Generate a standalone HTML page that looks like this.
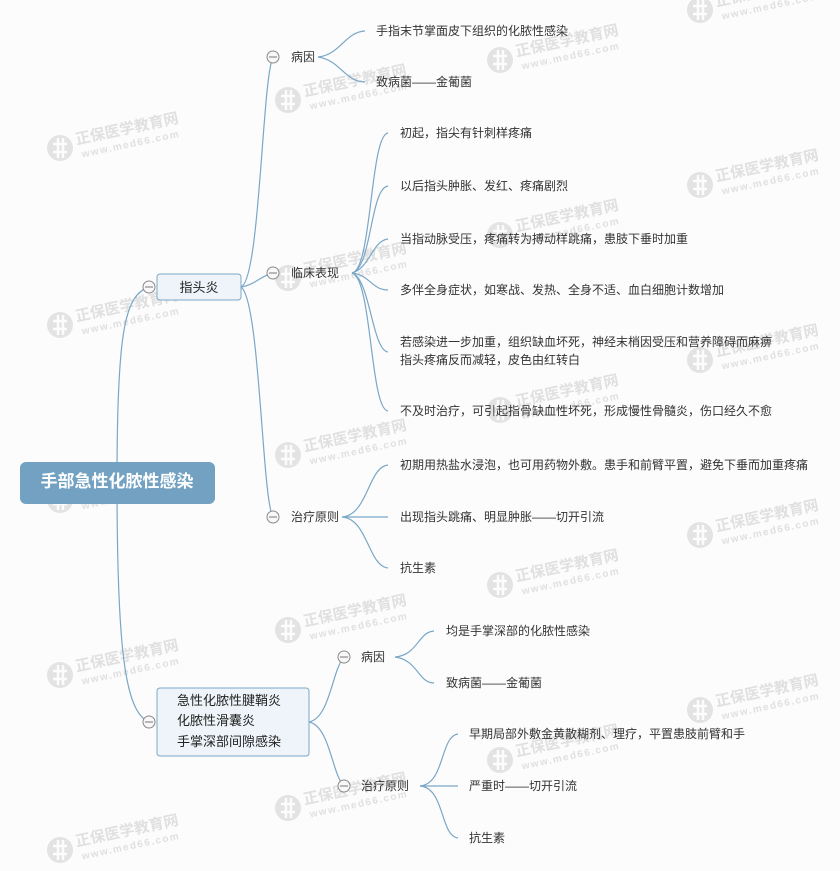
<!DOCTYPE html>
<html><head><meta charset="utf-8"><style>
html,body{margin:0;padding:0;background:#fcfcfc;}
svg{display:block;font-family:"Liberation Sans","Noto Sans CJK SC",sans-serif;}
.l{font-size:12px;fill:#333;}
.b{font-size:13px;fill:#222;}
.c{fill:none;stroke:#7aa7c7;stroke-width:1.2;}
.k{fill:#f8f8f8;stroke:#888;stroke-width:1;}
.wm text{font-weight:bold;fill:#e2e2e2;}
</style></head><body>
<svg width="840" height="871" viewBox="0 0 840 871" xmlns="http://www.w3.org/2000/svg">
<defs>
<g id="w">
<circle cx="0" cy="0" r="13" fill="#e3e3e3"/>
<path d="M-7,-4 H7 M-7,4 H7 M-2,-10 V10 M3,-10 V10" stroke="#fcfcfc" stroke-width="2.5"/>
<g transform="rotate(-12)"><text x="17" y="0" font-size="15" font-weight="bold" fill="#e0e0e0">正保医学教育网</text>
<text x="20" y="14" font-size="10" font-weight="bold" fill="#e0e0e0" letter-spacing="1.5">www.med66.com</text></g>
</g>
</defs>
<g>
<use href="#w" x="60" y="148"/><use href="#w" x="60" y="325"/><use href="#w" x="60" y="500"/><use href="#w" x="60" y="675"/><use href="#w" x="60" y="850"/>
<use href="#w" x="288" y="100"/><use href="#w" x="288" y="278"/><use href="#w" x="288" y="455"/><use href="#w" x="288" y="630"/><use href="#w" x="288" y="808"/>
<use href="#w" x="500" y="60"/><use href="#w" x="500" y="235"/><use href="#w" x="500" y="410"/><use href="#w" x="500" y="585"/><use href="#w" x="500" y="760"/>
<use href="#w" x="700" y="10"/><use href="#w" x="700" y="185"/><use href="#w" x="700" y="360"/><use href="#w" x="700" y="535"/><use href="#w" x="700" y="710"/>
</g>

<!-- root connectors -->
<path class="c" d="M117,480 C117,330 125,295 149,287"/>
<path class="c" d="M117,480 C117,650 125,712 149,722"/>

<!-- branch1 connectors -->
<path class="c" d="M241,287 C260,280 262,80 273,57"/>
<path class="c" d="M241,287 C255,285 262,275 273,273"/>
<path class="c" d="M241,287 C260,300 262,500 273,517"/>
<!-- 病因 leaves -->
<path class="c" d="M318,57 C340,55 345,32 365,31"/>
<path class="c" d="M318,57 C340,60 345,82 365,82"/>
<!-- 临床 leaves -->
<path class="c" d="M352,273 C372,270 370,135 388,133"/>
<path class="c" d="M352,273 C372,268 370,188 388,186"/>
<path class="c" d="M352,273 C370,268 372,241 388,239"/>
<path class="c" d="M352,273 C370,275 372,290 388,290"/>
<path class="c" d="M352,273 C370,278 372,350 388,352"/>
<path class="c" d="M352,273 C372,278 370,409 388,411"/>
<!-- 治疗 leaves -->
<path class="c" d="M342,517 C368,515 368,467 388,465"/>
<path class="c" d="M342,517 L388,517"/>
<path class="c" d="M342,517 C368,519 368,566 388,568"/>

<!-- branch2 connectors -->
<path class="c" d="M309,722 C330,718 332,670 344,657"/>
<path class="c" d="M309,722 C330,726 332,775 344,786"/>
<path class="c" d="M395,657 C418,655 418,632 434,631"/>
<path class="c" d="M395,657 C418,660 418,683 434,683"/>
<path class="c" d="M420,786 C445,784 440,736 458,734"/>
<path class="c" d="M420,786 L458,786"/>
<path class="c" d="M420,786 C445,788 440,836 458,838"/>

<!-- root -->
<rect x="20" y="462" width="195" height="42" rx="6" fill="#72a1c2"/>
<text x="117" y="487" text-anchor="middle" font-size="17" font-weight="bold" fill="#fff">手部急性化脓性感染</text>

<!-- branch1 -->
<rect x="157" y="274" width="84" height="26" rx="3" fill="#eef4f9" stroke="#7aa7c7"/>
<text x="199" y="292" text-anchor="middle" class="b">指头炎</text>
<circle class="k" cx="149" cy="287" r="6"/><path d="M145,287 H153" stroke="#777"/>

<!-- branch2 -->
<rect x="157" y="688" width="152" height="68" rx="3" fill="#eef4f9" stroke="#7aa7c7"/>
<text x="177" y="705" class="b">急性化脓性腱鞘炎</text>
<text x="177" y="725" class="b">化脓性滑囊炎</text>
<text x="177" y="746" class="b">手掌深部间隙感染</text>
<circle class="k" cx="149" cy="722" r="6"/><path d="M145,722 H153" stroke="#777"/>

<!-- sub nodes branch1 -->
<circle class="k" cx="273" cy="57" r="6"/><path d="M269,57 H277" stroke="#777"/>
<text x="291" y="61" class="l">病因</text>
<circle class="k" cx="273" cy="273" r="6"/><path d="M269,273 H277" stroke="#777"/>
<text x="291" y="277" class="l">临床表现</text>
<circle class="k" cx="273" cy="517" r="6"/><path d="M269,517 H277" stroke="#777"/>
<text x="291" y="521" class="l">治疗原则</text>

<text x="376" y="35" class="l">手指末节掌面皮下组织的化脓性感染</text>
<text x="376" y="86" class="l">致病菌——金葡菌</text>

<text x="400" y="137" class="l">初起，指尖有针刺样疼痛</text>
<text x="400" y="190" class="l">以后指头肿胀、发红、疼痛剧烈</text>
<text x="400" y="243" class="l">当指动脉受压，疼痛转为搏动样跳痛，患肢下垂时加重</text>
<text x="400" y="294" class="l">多伴全身症状，如寒战、发热、全身不适、血白细胞计数增加</text>
<text x="400" y="346" class="l">若感染进一步加重，组织缺血坏死，神经末梢因受压和营养障碍而麻痹</text>
<text x="400" y="364" class="l">指头疼痛反而减轻，皮色由红转白</text>
<text x="400" y="415" class="l">不及时治疗，可引起指骨缺血性坏死，形成慢性骨髓炎，伤口经久不愈</text>

<text x="400" y="469" class="l">初期用热盐水浸泡，也可用药物外敷。患手和前臂平置，避免下垂而加重疼痛</text>
<text x="400" y="521" class="l">出现指头跳痛、明显肿胀——切开引流</text>
<text x="400" y="572" class="l">抗生素</text>

<!-- sub nodes branch2 -->
<circle class="k" cx="344" cy="657" r="6"/><path d="M340,657 H348" stroke="#777"/>
<text x="361" y="661" class="l">病因</text>
<circle class="k" cx="344" cy="786" r="6"/><path d="M340,786 H348" stroke="#777"/>
<text x="361" y="790" class="l">治疗原则</text>

<text x="446" y="635" class="l">均是手掌深部的化脓性感染</text>
<text x="446" y="687" class="l">致病菌——金葡菌</text>
<text x="469" y="738" class="l">早期局部外敷金黄散糊剂、理疗，平置患肢前臂和手</text>
<text x="469" y="790" class="l">严重时——切开引流</text>
<text x="469" y="842" class="l">抗生素</text>
</svg>
</body></html>
